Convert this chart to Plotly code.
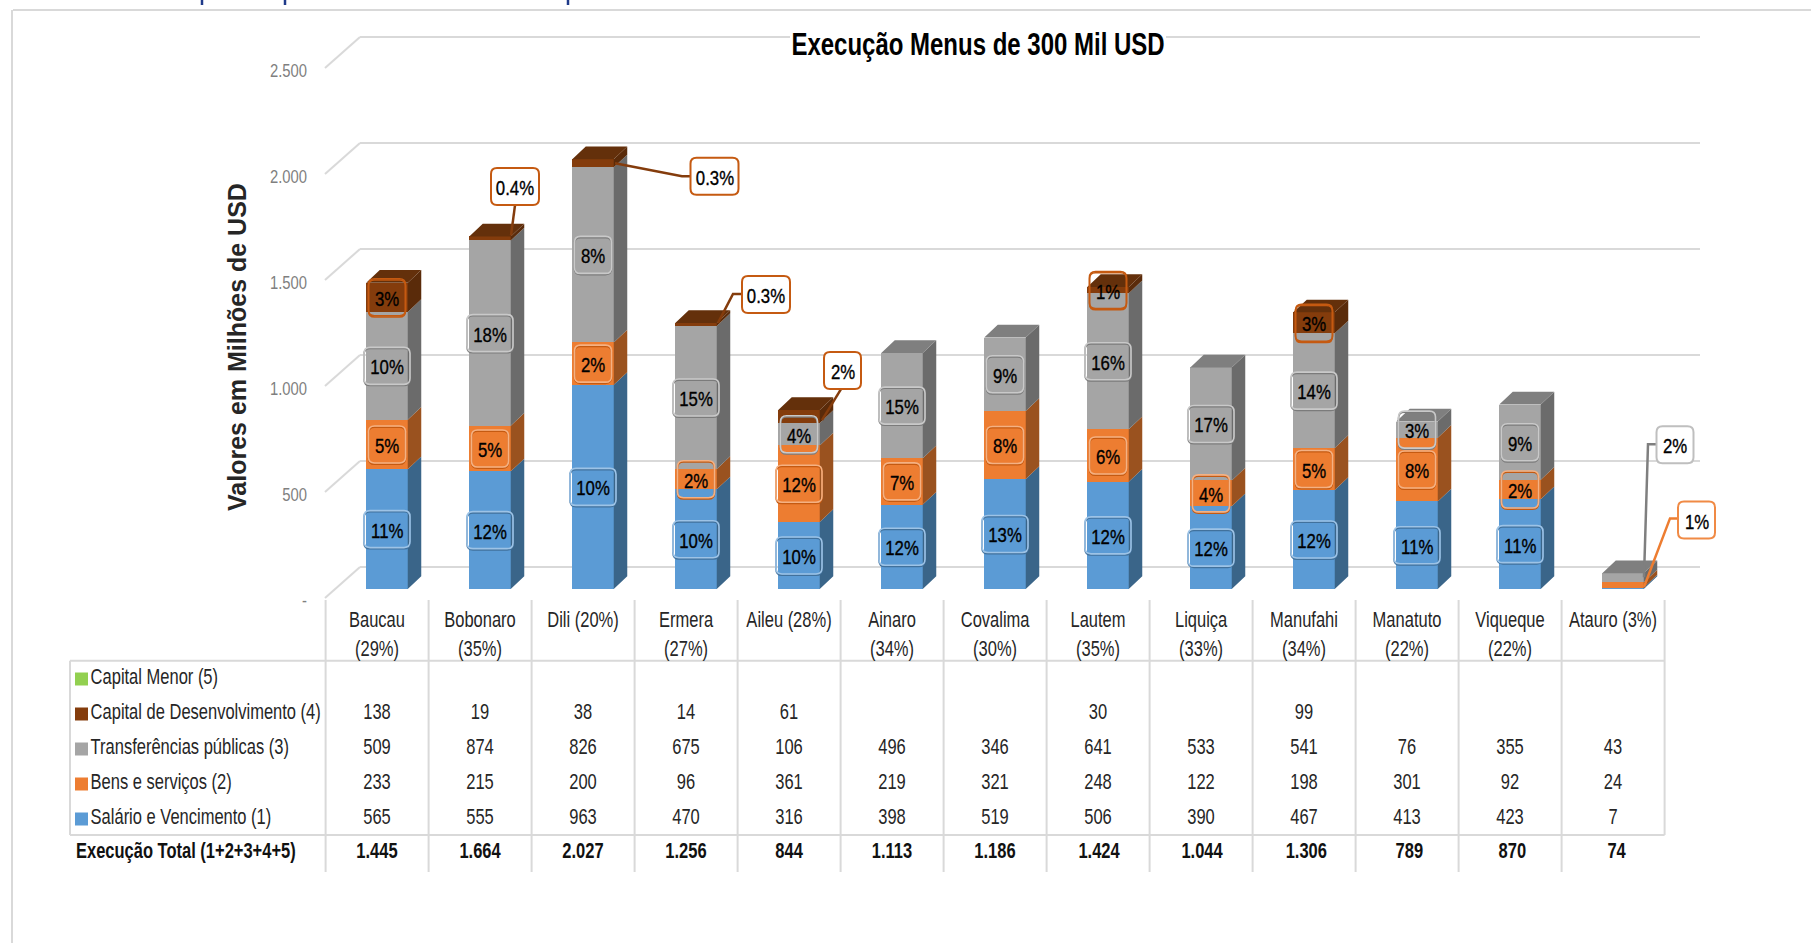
import plotly.graph_objects as go

# ---------- data ----------
categories = ["Baucau<br>(29%)", "Bobonaro<br>(35%)", "Dili (20%)<br> ", "Ermera<br>(27%)", "Aileu (28%)<br> ",
              "Ainaro<br>(34%)", "Covalima<br>(30%)", "Lautem<br>(35%)", "Liquiça<br>(33%)", "Manufahi<br>(34%)",
              "Manatuto<br>(22%)", "Viqueque<br>(22%)", "Atauro (3%)<br> "]
salario = [565, 555, 963, 470, 316, 398, 519, 506, 390, 467, 413, 423, 7]
bens = [233, 215, 200, 96, 361, 219, 321, 248, 122, 198, 301, 92, 24]
transferencias = [509, 874, 826, 675, 106, 496, 346, 641, 533, 541, 76, 355, 43]
capital_des = [138, 19, 38, 14, 61, None, None, 30, None, 99, None, None, None]
capital_menor = [None] * 13
totais = ["1.445", "1.664", "2.027", "1.256", "844", "1.113", "1.186", "1.424", "1.044", "1.306", "789", "870", "74"]
pct_salario = ["11%", "12%", "10%", "10%", "10%", "12%", "13%", "12%", "12%", "12%", "11%", "11%", None]
pct_bens = ["5%", "5%", "2%", "2%", "12%", "7%", "8%", "6%", "4%", "5%", "8%", "2%", "1%"]
pct_transf = ["10%", "18%", "8%", "15%", "4%", "15%", "9%", "16%", "17%", "14%", "3%", "9%", "2%"]
pct_capital = ["3%", "0.4%", "0.3%", "0.3%", "2%", None, None, "1%", None, "3%", None, None, None]
y_ticks = [0, 500, 1000, 1500, 2000, 2500]
y_ticktext = ["-", "500", "1.000", "1.500", "2.000", "2.500"]
row_names = ["Capital Menor (5)", "Capital de Desenvolvimento (4)", "Transferências públicas (3)",
             "Bens e serviços (2)", "Salário e Vencimento (1)"]

# ---------- geometry / style ----------
W, H = 1811, 943
SY = 0.212          # pixels per USD million
SX = 103.0          # pixels per category
BAR_X0 = 387.0      # pixel of first bar centre
TABLE_X0 = 377.0    # pixel of first table column centre
BASE = 589.0        # pixel of value 0 on the bar plane
BACK = 567.0        # pixel of value 0 on the back wall
FRONT = 598.0       # pixel of value 0 on the floor edge
TICK_DROP = 2.0     # value labels sit a little below the floor-edge lines
BAR_W = 41.5 / SX
DX = 13.5 / SX
DY = 12.7 / SY
FONT = "Liberation Sans"
DARK = "#262626"
LINE = "#D9D9D9"
SIZE_TABLE = 22
SIZE_LABEL = 21
SIZE_TICK = 19
SIZE_TITLE = 32

series = [
    dict(name=row_names[4], v=salario, pct=pct_salario, front="#5B9BD5", side="#3A6589", top="#3A6589",
         light="#9DC3E6", dark="#41719C"),
    dict(name=row_names[3], v=bens, pct=pct_bens, front="#ED7D31", side="#9A521F", top="#9A521F",
         light="#F4B183", dark="#C55A11"),
    dict(name=row_names[2], v=transferencias, pct=pct_transf, front="#A5A5A5", side="#6B6B6B", top="#7F7F7F",
         light="#C9C9C9", dark="#7B7B7B"),
    dict(name=row_names[1], v=capital_des, pct=pct_capital, front="#843C0C", side="#5A2B0A", top="#64300B",
         light="#C55A11", dark="#C55A11"),
    dict(name=row_names[0], v=capital_menor, pct=[None] * 13, front="#92D050", side="#6E9C3C", top="#7DB544",
         light="#92D050", dark="#6E9C3C"),
]

# callouts: (series index, category index) -> offsets in pixels from bar centre / segment top
callouts = {
    (3, 1): dict(box=(25, -50), path=[(25, -31), (21, -1)]),
    (3, 2): dict(box=(121.5, 17), path=[(97, 17), (89, 17), (22, 4)]),
    (3, 3): dict(box=(70, -28.5), path=[(45, -29), (37, -29), (22, 0)]),
    (3, 4): dict(box=(43.5, -39.5), path=[(42, -21), (23, 10)]),
    (2, 12): dict(box=(52, -128.5), path=[(34, -129), (25, -129), (21, 4)]),
    (1, 12): dict(box=(73.5, -62.4), path=[(55, -64), (47, -64), (21, 4.6)]),
}


def yrange(zero_px):
    return [(zero_px - H) / SY, zero_px / SY]


xs = list(range(len(categories)))
fig = go.Figure()

# ---------- bars on the front plane ----------
bottoms = [0.0] * len(xs)
segments = []
for s in series:
    fig.add_trace(go.Bar(x=xs, y=s["v"], width=BAR_W, name=s["name"], marker=dict(color=s["front"], line_width=0),
                         xaxis="x2", yaxis="y2", showlegend=False))
    lows = list(bottoms)
    bottoms = [b + (v or 0) for b, v in zip(bottoms, s["v"])]
    segments.append((lows, list(bottoms)))

# side faces
for s, (lows, highs) in zip(series, segments):
    px_, py_ = [], []
    for i, (lo, hi) in enumerate(zip(lows, highs)):
        if hi <= lo:
            continue
        xr = i + BAR_W / 2
        px_ += [xr, xr + DX, xr + DX, xr, xr, None]
        py_ += [lo, lo + DY, hi + DY, hi, lo, None]
    if px_:
        fig.add_trace(go.Scatter(x=px_, y=py_, mode="lines", line_width=0, fill="toself", fillcolor=s["side"],
                                 xaxis="x2", yaxis="y2", hoverinfo="skip", showlegend=False))

# top faces (only the top segment of each stack shows one)
for k, (s, (lows, highs)) in enumerate(zip(series, segments)):
    px_, py_ = [], []
    for i, (lo, hi) in enumerate(zip(lows, highs)):
        if hi <= lo or hi < bottoms[i]:
            continue
        xl, xr = i - BAR_W / 2, i + BAR_W / 2
        px_ += [xl, xr, xr + DX, xl + DX, xl, None]
        py_ += [hi, hi, hi + DY, hi + DY, hi, None]
    if px_:
        fig.add_trace(go.Scatter(x=px_, y=py_, mode="lines", line_width=0, fill="toself", fillcolor=s["top"],
                                 xaxis="x2", yaxis="y2", hoverinfo="skip", showlegend=False))

# left wall lines joining the floor edge to the back wall
wall_x, wall_y = [], []
for t in y_ticks:
    wall_x += [(325.0 - BAR_X0) / SX, (360.0 - BAR_X0) / SX, None]
    wall_y += [t + TICK_DROP / SY, t + (FRONT + TICK_DROP - BACK) / SY, None]
fig.add_trace(go.Scatter(x=wall_x, y=wall_y, mode="lines", line=dict(color=LINE, width=2), xaxis="x2", yaxis="y3",
                         hoverinfo="skip", showlegend=False))

# ---------- labels ----------
shapes = []
annotations = []


def rounded(xc, yc, hw, hh, r=6.0, shift=0.0):
    """rounded box around a data point, size in pixels, path in data units"""
    ux, uy = 1 / SX, 1 / SY
    yc = yc - shift * uy
    l, rr = xc - hw * ux, xc + hw * ux
    b, t = yc - hh * uy, yc + hh * uy
    rx, ry = r * ux, r * uy
    return (f"M {l + rx} {t} L {rr - rx} {t} Q {rr} {t} {rr} {t - ry} L {rr} {b + ry} Q {rr} {b} {rr - rx} {b} "
            f"L {l + rx} {b} Q {l} {b} {l} {b + ry} L {l} {t - ry} Q {l} {t} {l + rx} {t} Z")


def label_text(x, y, text):
    annotations.append(dict(x=x, y=y, xref="x2", yref="y2", text=text, showarrow=False, yshift=-1,
                            font=dict(family=FONT, size=SIZE_LABEL, color="#000000"),
                            xanchor="center", yanchor="middle"))


for k, (s, (lows, highs)) in enumerate(zip(series, segments)):
    for i, txt in enumerate(s["pct"]):
        if not txt:
            continue
        hw = 23 if len(txt) > 2 else 18.5
        if (k, i) in callouts:
            c = callouts[(k, i)]
            top = highs[i]
            lx = [i + dx / SX for dx, dy in c["path"]]
            ly = [top - dy / SY for dx, dy in c["path"]]
            color = {3: "#843C0C", 1: "#ED7D31", 2: "#7F7F7F"}[k]
            fig.add_trace(go.Scatter(x=lx, y=ly, mode="lines", line=dict(color=color, width=2.5), xaxis="x2",
                                     yaxis="y2", hoverinfo="skip", showlegend=False))
            bx, by = i + c["box"][0] / SX, top - c["box"][1] / SY
            edge = {3: "#C55A11", 1: "#F08A45", 2: "#BFBFBF"}[k]
            shapes.append(dict(type="path", path=rounded(bx, by, 24 if len(txt) > 2 else 18.5, 18.5), xref="x2",
                               yref="y2", fillcolor="#FFFFFF", line=dict(color=edge, width=2), layer="above"))
            label_text(bx, by, txt)
        else:
            yc = (lows[i] + highs[i]) / 2
            shapes.append(dict(type="path", path=rounded(i, yc, hw, 18.5, shift=1.2), xref="x2", yref="y2",
                               line=dict(color=s["dark"], width=1.6), layer="above"))
            shapes.append(dict(type="path", path=rounded(i, yc, hw, 18.5), xref="x2", yref="y2",
                               line=dict(color=s["light"], width=1.6), layer="above"))
            label_text(i, yc, txt)

# ---------- data table ----------
value_rows = [capital_menor, capital_des, transferencias, bens, salario]
tx, ty, tt = [], [], []
for r, row in enumerate(value_rows):
    for i, v in enumerate(row):
        if v is not None:
            tx.append(i)
            ty.append(r)
            tt.append(str(v))
fig.add_trace(go.Scatter(x=tx, y=ty, text=tt, mode="text", textposition="middle center",
                         textfont=dict(family=FONT, size=SIZE_TABLE, color=DARK), xaxis="x3", yaxis="y4",
                         hoverinfo="skip", showlegend=False))
total_drift = [0, 0, 0, 0, 0, 0, 0, 1, 1, 2.3, 2.3, 2.3, 3.5]
fig.add_trace(go.Scatter(x=[i + d / SX for i, d in zip(xs, total_drift)], y=[4.97] * len(xs),
                         text=[f"<b>{t}</b>" for t in totais], mode="text",
                         textposition="middle center", textfont=dict(family=FONT, size=SIZE_TABLE, color="#111111"),
                         xaxis="x3", yaxis="y4", hoverinfo="skip", showlegend=False))
# legend column of the data table
key_colors = [series[4]["front"], series[3]["front"], series[2]["front"], series[1]["front"], series[0]["front"]]
key_x = (81.5 - TABLE_X0) / SX
fig.add_trace(go.Scatter(x=[key_x] * 5, y=list(range(5)), text=row_names, mode="markers+text",
                         marker=dict(symbol="square", size=13, color=key_colors, line_width=0),
                         textposition="middle right", textfont=dict(family=FONT, size=SIZE_TABLE, color=DARK),
                         xaxis="x3", yaxis="y4", hoverinfo="skip", showlegend=False))
fig.add_trace(go.Scatter(x=[(76.0 - TABLE_X0) / SX], y=[4.97], text=["<b>Execução Total (1+2+3+4+5)</b>"], mode="text",
                         textposition="middle right", textfont=dict(family=FONT, size=SIZE_TABLE, color="#111111"),
                         xaxis="x3", yaxis="y4", hoverinfo="skip", showlegend=False))


def pfx(p):
    return p / W


def pfy(p):
    return 1 - p / H


def seg(x0, y0, x1, y1, color=LINE, width=2):
    shapes.append(dict(type="line", xref="paper", yref="paper", x0=pfx(x0), y0=pfy(y0), x1=pfx(x1), y1=pfy(y1),
                       line=dict(color=color, width=width), layer="below"))


# table rules
seg(70, 660.7, 1664.6, 660.7)
seg(70, 835, 1664.6, 835)
seg(70, 660.7, 70, 835)
for k in range(14):
    x = 325.6 + 103 * k
    seg(x, 600, x, 835 if k == 13 else 872)
# page frame and the clipped heading above the chart
seg(13, 10, W, 10)
seg(12, 10, 12, H)
for x in (202, 285, 568):
    seg(x, 0, x, 5, color="#1F3A8A", width=2.5)
# gap in the top grid line behind the title
shapes.append(dict(type="rect", xref="paper", yref="paper", x0=pfx(790), x1=pfx(1166), y0=pfy(52), y1=pfy(24),
                   fillcolor="#FFFFFF", line_width=0, layer="above"))

annotations.append(dict(x=pfx(237), y=pfy(347), xref="paper", yref="paper", text="<b>Valores em Milhões de USD</b>",
                        textangle=-90, showarrow=False, font=dict(family=FONT, size=25, color=DARK),
                        xanchor="center", yanchor="middle"))

# ---------- layout ----------
xr_full = [-BAR_X0 / SX, (W - BAR_X0) / SX]
xr_table = [-TABLE_X0 / SX, (W - TABLE_X0) / SX]
hidden = dict(showgrid=False, zeroline=False, showticklabels=False, ticks="", showline=False)
fig.update_layout(
    width=W, height=H, autosize=False,
    margin=dict(l=0, r=0, t=0, b=0, pad=0),
    paper_bgcolor="#FFFFFF", plot_bgcolor="rgba(0,0,0,0)",
    barmode="stack", bargap=0, showlegend=False,
    title=dict(text="<b>Execução Menus de 300 Mil USD</b>", x=978 / W, y=1 - 44 / H, xanchor="center", yanchor="middle",
               font=dict(family=FONT, size=SIZE_TITLE, color="#000000")),
    # back wall with its grid lines
    xaxis=dict(domain=[360 / W, 1700 / W], range=[0, 1], **hidden),
    yaxis=dict(domain=[0, 1], range=yrange(BACK), anchor="x", showgrid=True, gridcolor=LINE, gridwidth=2,
               tickmode="array", tickvals=y_ticks, showticklabels=False, zeroline=False, ticks="", showline=False),
    # bar plane
    xaxis2=dict(domain=[0, 1], range=xr_full, anchor="y2", **hidden),
    yaxis2=dict(domain=[0, 1], range=yrange(BASE), anchor="x2", **hidden),
    # floor edge carrying the value labels
    yaxis3=dict(overlaying="y2", range=yrange(FRONT + TICK_DROP), anchor="free", position=307 / W, side="left",
                showgrid=False, zeroline=False, ticks="", showline=False, tickmode="array", tickvals=y_ticks,
                ticktext=y_ticktext, tickfont=dict(family=FONT, size=SIZE_TICK, color="#7F7F7F")),
    # table columns, carrying the category labels
    xaxis3=dict(overlaying="x2", range=xr_table, anchor="free", position=1 - 604 / H, side="bottom", showgrid=False,
                zeroline=False, ticks="", showline=False, tickmode="array", tickvals=xs, ticktext=categories,
                tickfont=dict(family=FONT, size=SIZE_TABLE, color=DARK), tickangle=0),
    # table rows
    yaxis4=dict(overlaying="y2", range=[(H - 679) / 35, -679 / 35], anchor="x3", **hidden),
    shapes=shapes,
    annotations=annotations,
)
# grid subplot needs a trace so that it is drawn first
fig.add_trace(go.Scatter(x=[0], y=[0], mode="markers", marker=dict(opacity=0), xaxis="x", yaxis="y",
                         hoverinfo="skip", showlegend=False))

# The reference uses a condensed face that is not installed: squeeze the real text horizontally.
post = """
document.body.style.margin='0';document.body.style.overflow='hidden';
var factors={%d:0.75,%d:0.8,%d:0.78,%d:0.75};var labelSize=%d;
document.querySelectorAll('.main-svg text').forEach(function(t){
  if(t.textContent.indexOf('Valores')===0||!t.textContent.trim())return;
  var size=Math.round(parseFloat(t.style.fontSize)),f=factors[size];
  if(!f)return;
  var b=t.getBoundingClientRect(),m=t.parentNode.getScreenCTM();
  var a=t.style.textAnchor||t.getAttribute('text-anchor')||'start';
  var p=a==='start'?b.left:(a==='end'?b.right:(b.left+b.right)/2);
  var l=p-m.e,o=t.getAttribute('transform')||'';
  t.setAttribute('transform','translate('+l+' 0) scale('+f+' 1) translate('+(-l)+' 0) '+o);
  if(size===labelSize){t.style.stroke='#000000';t.style.strokeWidth='0.35px';}
});
""" % (SIZE_TABLE, SIZE_LABEL, SIZE_TICK, SIZE_TITLE, SIZE_LABEL)
fig.write_html("out.html", config={"displayModeBar": False}, post_script=post)
